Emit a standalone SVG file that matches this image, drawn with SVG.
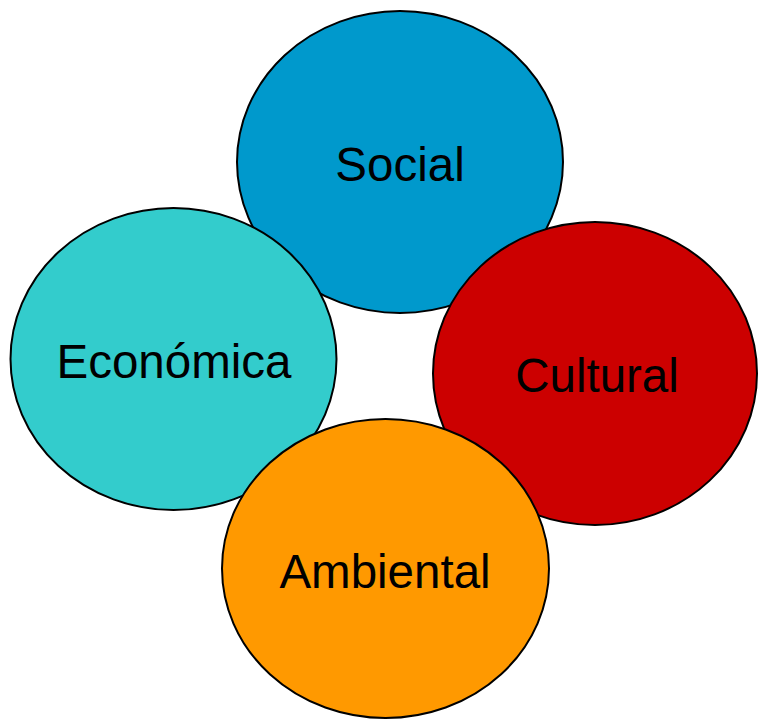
<svg xmlns="http://www.w3.org/2000/svg" width="758" height="720" viewBox="0 0 758 720">
<style>
.c{stroke:#000;stroke-width:2}
.t{font-family:"Liberation Sans",Arial,sans-serif;font-size:47.5px;fill:#000;text-anchor:middle}
</style>
<rect width="758" height="720" fill="#fff"/>
<g id="social"><ellipse class="c" cx="400" cy="162" rx="163" ry="151" fill="#0099CC"/><text class="t" x="400" y="181">Social</text></g>
<g id="economica"><ellipse class="c" cx="173.5" cy="359" rx="163" ry="151" fill="#33CCCC"/><text class="t" x="174" y="378">Económica</text></g>
<g id="cultural"><ellipse class="c" cx="595" cy="373.5" rx="162" ry="151.5" fill="#CC0000"/><text class="t" x="597" y="392">Cultural</text></g>
<g id="ambiental"><ellipse class="c" cx="385.5" cy="568.5" rx="163.5" ry="149.5" fill="#FF9900"/><text class="t" x="385" y="588">Ambiental</text></g>
<g id="connectors"/>
</svg>
